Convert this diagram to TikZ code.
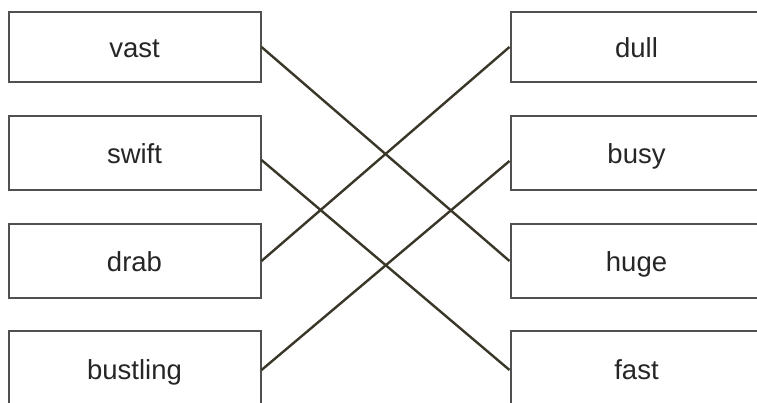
\documentclass[tikz,border=0pt]{standalone}
\usepackage{fontspec}
\setmainfont{Liberation Sans}
\definecolor{boxgray}{HTML}{505050}
\definecolor{linecol}{HTML}{3A3728}
\definecolor{textdark}{HTML}{262626}
\begin{document}
\begin{tikzpicture}[x=1pt,y=-1pt,
  wordbox/.style={draw=boxgray, line width=2pt, minimum width=252pt, minimum height=74pt, inner sep=0pt, text height=22pt, text depth=0pt, font=\fontsize{27.5}{30}\selectfont, text=textdark},
  link/.style={draw=linecol, line width=2.4pt}]
\useasboundingbox (0,0) rectangle (757,403);
\clip (0,0) rectangle (757,403);
\fill[white] (0,0) rectangle (757,403);
% left column
\node[wordbox, minimum height=70pt] (vast) at (134.5,47) {vast};
\node[wordbox] (swift) at (134.5,153) {swift};
\node[wordbox] (drab) at (134.5,261) {drab};
\node[wordbox] (bustling) at (134.5,368) {bustling};
% right column
\node[wordbox, minimum height=70pt] (dull) at (636.5,47) {dull};
\node[wordbox] (busy) at (636.5,153) {busy};
\node[wordbox] (huge) at (636.5,261) {huge};
\node[wordbox] (fast) at (636.5,368) {fast};
% connectors
\draw[link] (vast.east) -- (huge.west);
\draw[link] ([yshift=-7pt]swift.east) -- ([yshift=-2pt]fast.west);
\draw[link] (drab.east) -- (dull.west);
\draw[link] ([yshift=-2pt]bustling.east) -- ([yshift=-8pt]busy.west);
\end{tikzpicture}
\end{document}
